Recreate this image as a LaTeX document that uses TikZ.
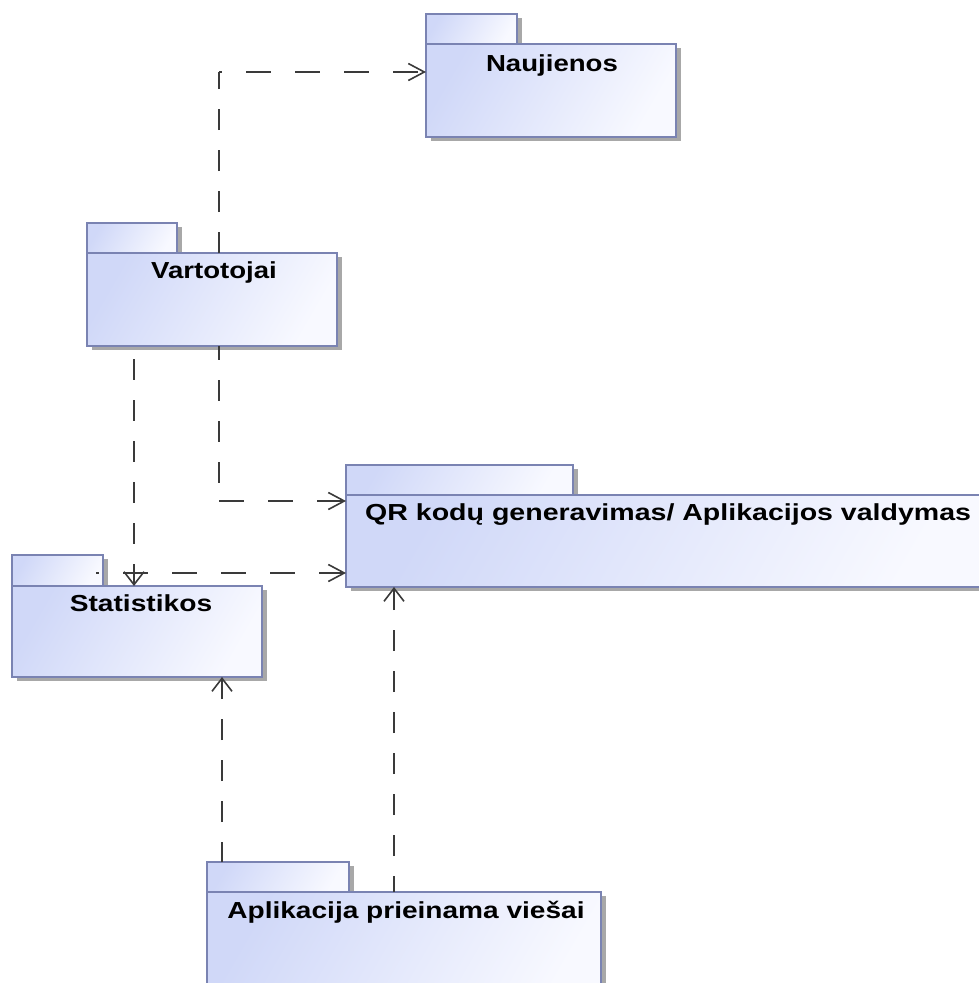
\documentclass[tikz,border=0pt]{standalone}
\usepackage{fontspec}
\setmainfont{Liberation Sans}
\usetikzlibrary{arrows.meta,shadows}

\definecolor{pkgline}{HTML}{7A83B2}
\definecolor{pkgdeep}{HTML}{D0D8F8}
\definecolor{pkgpale}{HTML}{F8F9FF}
\definecolor{pkgshadow}{HTML}{A8A8A8}
\definecolor{depline}{HTML}{3A3A3A}

% package names are set a little flattened (optional extra width factor)
\newcommand\pkgname[2][1]{\scalebox{#1}[0.84]{#2}}

\tikzset{
  pkgpart/.style={draw=pkgline, line width=1.5pt,
    left color=pkgdeep, right color=pkgpale, shading angle=60,
    inner sep=0pt, outer sep=0pt, anchor=north west,
    drop shadow={shadow xshift=5pt, shadow yshift=-4pt, fill=pkgshadow, opacity=1}},
  pkglabel/.style={anchor=base, inner sep=0pt,
    font=\fontsize{27.6pt}{30pt}\selectfont\bfseries, text=black},
  deph/.style={draw=depline, line width=1.6pt, dash pattern=on 25pt off 24pt},
  depv/.style={draw=depline, line width=1.6pt, dash pattern=on 21pt off 20pt},
  tiph/.style={-{Straight Barb[length=16pt,width=17pt]}},
  tipv/.style={-{Straight Barb[length=13pt,width=20pt]}},
}

\begin{document}
\begin{tikzpicture}[x=1pt,y=-1pt]
\useasboundingbox (0,0) rectangle (979,983);
\clip (0,0) rectangle (979,983);

% ---------- packages: tab, body, name ----------
\node[pkgpart, minimum width=91pt, minimum height=30pt] (nauj-tab) at (426,14) {};
\node[pkgpart, minimum width=250pt, minimum height=93pt] (nauj) at (426,44) {};
\node[pkglabel] (nauj-label) at ([xshift=1pt,yshift=-27pt]nauj.north) {\pkgname{Naujienos}};

\node[pkgpart, minimum width=90pt, minimum height=30pt] (vart-tab) at (87,223) {};
\node[pkgpart, minimum width=250pt, minimum height=93pt] (vart) at (87,253) {};
\node[pkglabel] (vart-label) at ([xshift=2pt,yshift=-25pt]vart.north) {\pkgname{Vartotojai}};

\node[pkgpart, minimum width=91pt, minimum height=31pt] (stat-tab) at (12,555) {};
\node[pkgpart, minimum width=250pt, minimum height=91pt] (stat) at (12,586) {};
\node[pkglabel] (stat-label) at ([xshift=4pt,yshift=-25pt]stat.north) {\pkgname[1.02]{Statistikos}};

\node[pkgpart, minimum width=227pt, minimum height=30pt] (qr-tab) at (346,465) {};
\node[pkgpart, minimum width=644pt, minimum height=92pt] (qr) at (346,495) {};
\node[pkglabel, anchor=base west] (qr-label) at ([xshift=19pt,yshift=-25pt]qr.north west)
  {\pkgname[1.034]{QR kodų generavimas/ Aplikacijos valdymas}};

\node[pkgpart, minimum width=142pt, minimum height=30pt] (apl-tab) at (207,862) {};
\node[pkgpart, minimum width=394pt, minimum height=120pt] (apl) at (207,892) {};
\node[pkglabel] (apl-label) at ([xshift=2pt,yshift=-26pt]apl.north) {\pkgname[1.017]{Aplikacija prieinama viešai}};

% ---------- dependencies ----------
% Vartotojai -> Naujienos
\coordinate (bend-a) at (219,72);
\draw[depv] ([xshift=132pt]vart.north west) -- (bend-a);
\draw[deph, dash phase=22pt, tiph] (bend-a) -- (nauj.west |- bend-a);

% Vartotojai -> QR
\coordinate (bend-b) at (219,501);
\draw[depv, dash phase=7pt] ([xshift=132pt]vart.south west) -- (bend-b);
\draw[deph, tiph] (bend-b) -- (qr.west |- bend-b);

% Vartotojai -> Statistikos
\draw[depv, dash phase=28pt, tipv] ([xshift=47pt]vart.south west) -- ([xshift=122pt]stat.north west);

% Statistikos -> QR
\coordinate (stat-out) at (96,573);
\draw[deph, dash phase=22pt, tiph] (stat-out) -- (qr.west |- stat-out);

% Aplikacija -> Statistikos
\draw[depv, dash phase=1pt, tipv] ([xshift=15pt]apl-tab.north west) -- ([xshift=210pt]stat.south west);

% Aplikacija -> QR
\draw[depv, dash phase=5pt, tipv] ([xshift=187pt]apl.north west) -- ([xshift=48pt]qr.south west);
\end{tikzpicture}
\end{document}
